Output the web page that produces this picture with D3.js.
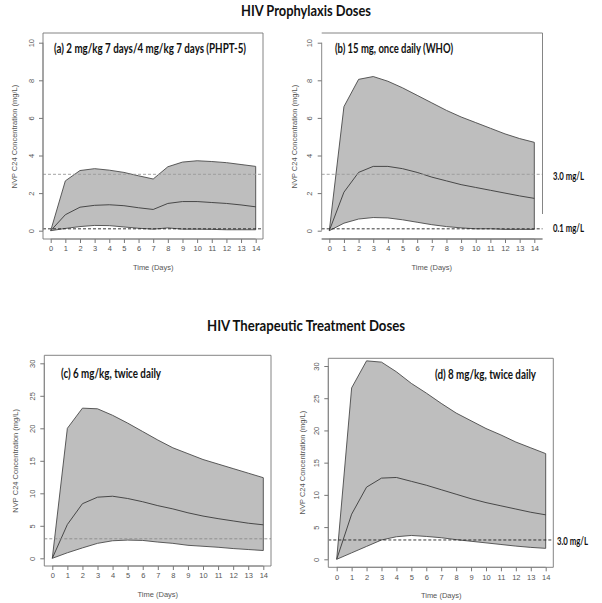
<!DOCTYPE html>
<html><head><meta charset="utf-8">
<script src="https://cdn.jsdelivr.net/npm/d3@7"></script>
<style>body{margin:0;background:#fff} svg{display:block}</style>
</head><body><svg id="chart" width="602" height="603"></svg>
<script>
// ---------------- data ----------------
const days = [0,1,2,3,4,5,6,7,8,9,10,11,12,13,14];

const aUpper  = [0,2.65,3.2,3.3,3.22,3.1,2.92,2.75,3.4,3.65,3.72,3.68,3.62,3.52,3.42];
const aMedian = [0,0.85,1.25,1.35,1.38,1.33,1.22,1.13,1.45,1.55,1.55,1.5,1.45,1.37,1.27];
const aLower  = [0,0.12,0.22,0.28,0.27,0.2,0.13,0.08,0.15,0.08,0.08,0.07,0.05,0.05,0.05];

const bUpper  = [0,6.6,8.05,8.2,7.95,7.6,7.2,6.8,6.4,6.05,5.75,5.45,5.15,4.9,4.7];
const bMedian = [0,2.05,3.1,3.42,3.42,3.3,3.1,2.85,2.65,2.45,2.3,2.15,2.0,1.85,1.72];
const bLower  = [0,0.4,0.62,0.7,0.68,0.58,0.45,0.32,0.22,0.15,0.1,0.1,0.07,0.07,0.07];

const cUpper  = [0,20,23.1,23,22,20.8,19.5,18.2,17,16.1,15.2,14.5,13.8,13.1,12.4];
const cMedian = [0,5.2,8.4,9.4,9.55,9.2,8.7,8.1,7.6,7.0,6.5,6.1,5.75,5.4,5.15];
const cLower  = [0,0.85,1.6,2.3,2.7,2.8,2.75,2.5,2.3,2.0,1.85,1.7,1.5,1.35,1.2];

const dUpper  = [0,26.6,30.8,30.6,29.1,27.3,25.8,24.2,22.7,21.5,20.3,19.3,18.2,17.3,16.4];
const dMedian = [0,7.0,11.2,12.6,12.7,12.1,11.5,10.8,10.1,9.4,8.8,8.3,7.8,7.3,6.9];
const dLower  = [0,1.0,2.0,3.0,3.5,3.7,3.55,3.35,3.05,2.8,2.55,2.3,2.05,1.85,1.7];

const yTicksProphylaxis = [0,2,4,6,8,10];
const yTicksTreatment   = [0,5,10,15,20,25,30];
const xTicks = days;

const sectionTitles = ["HIV Prophylaxis Doses", "HIV Therapeutic Treatment Doses"];
const panelTitles = [
  "(a) 2 mg/kg 7 days/4 mg/kg 7 days (PHPT-5)",
  "(b) 15 mg, once daily (WHO)",
  "(c) 6 mg/kg, twice daily",
  "(d) 8 mg/kg, twice daily"
];
const thresholdValues = [3.0, 0.1];
const thresholdLabels = ["3.0 mg/L", "0.1 mg/L"];
const xLabel = "Time (Days)";
const yLabel = "NVP C24 Concentration (mg/L)";

// ---------------- layout ----------------
const panels = [
  {upper:aUpper, median:aMedian, lower:aLower, ticks:yTicksProphylaxis, ymax:10,
   box:[43,263,33,239], xr:[50.7,255.7], yr:[230.7,42.7], title:panelTitles[0],
   tx:54, ty:48, tw:192, yl:14,
   lines:[{v:thresholdValues[0], c:"#9a9a9a"},{v:thresholdValues[1], c:"#222"}], labels:[], rightGap:null},
  {upper:bUpper, median:bMedian, lower:bLower, ticks:yTicksProphylaxis, ymax:10,
   box:[321.7,542.5,33,239], xr:[329.3,534.3], yr:[230.7,42.7], title:panelTitles[1],
   tx:335, ty:48, tw:118, yl:294,
   lines:[{v:thresholdValues[0], c:"#9a9a9a"},{v:thresholdValues[1], c:"#222"}],
   labels:[{t:thresholdLabels[0], x:553, y:175},{t:thresholdLabels[1], x:553, y:227}], rightGap:214},
  {upper:cUpper, median:cMedian, lower:cLower, ticks:yTicksTreatment, ymax:30,
   box:[44.3,271,355.3,566], xr:[52.3,263.3], yr:[558.3,363.3], title:panelTitles[2],
   tx:61, ty:373, tw:100, yl:15,
   lines:[{v:thresholdValues[0], c:"#8a8a8a"}], labels:[], rightGap:null},
  {upper:dUpper, median:dMedian, lower:dLower, ticks:yTicksTreatment, ymax:30,
   box:[328.3,553.3,358.3,567.3], xr:[336.7,545.7], yr:[559.3,366], title:panelTitles[3],
   tx:435, ty:374, tw:101, yl:302,
   lines:[{v:thresholdValues[0], c:"#222"}],
   labels:[{t:thresholdLabels[0], x:557, y:540}], rightGap:null}
];

const svg = d3.select("#chart");
const boldFont = "Lato, 'Open Sans', sans-serif";
const axisFont = "'Liberation Sans', Arial, sans-serif";

function fitText(sel, w) {
  sel.attr("textLength", w).attr("lengthAdjust", "spacingAndGlyphs");
}

// section titles
[[sectionTitles[0], 306, 10, 130], [sectionTitles[1], 306, 325, 198]].forEach(([t, x, y, w]) => {
  const s = svg.append("text").attr("x", x).attr("y", y).attr("text-anchor", "middle")
    .attr("dominant-baseline", "central").attr("font-family", boldFont).attr("font-weight", "bold")
    .attr("font-size", 14.5).attr("fill", "#111").text(t);
  fitText(s, w);
});

panels.forEach(p => {
  const g = svg.append("g");
  const x = d3.scaleLinear().domain([0, 14]).range(p.xr);
  const y = d3.scaleLinear().domain([0, p.ymax]).range(p.yr);
  const [bl, br, bt, bb] = p.box;

  // band
  const rows = days.map((d, i) => ({d, lo: p.lower[i], hi: p.upper[i], m: p.median[i]}));
  g.append("path").datum(rows)
    .attr("d", d3.area().x(r => x(r.d)).y0(r => y(r.lo)).y1(r => y(r.hi)))
    .attr("fill", "#bebebe").attr("stroke", "#4a4a4a").attr("stroke-width", 0.9);
  g.append("path").datum(rows)
    .attr("d", d3.line().x(r => x(r.d)).y(r => y(r.m)))
    .attr("fill", "none").attr("stroke", "#3a3a3a").attr("stroke-width", 0.9);

  // threshold lines
  p.lines.forEach(l => {
    g.append("line").attr("x1", bl).attr("x2", br).attr("y1", y(l.v)).attr("y2", y(l.v))
      .attr("stroke", l.c).attr("stroke-width", 0.9).attr("stroke-dasharray", "3,2");
  });

  // box
  const boxPath = d3.path();
  boxPath.moveTo(bl, bt); boxPath.lineTo(br, bt);
  boxPath.lineTo(br, p.rightGap == null ? bb : p.rightGap);
  if (p.rightGap != null) boxPath.moveTo(br, bb);
  boxPath.lineTo(bl, bb); boxPath.closePath();
  g.append("path").attr("d", boxPath.toString()).attr("fill", "none")
    .attr("stroke", "#777").attr("stroke-width", 0.9);

  // x axis
  const xa = g.append("g").attr("transform", `translate(0,${bb})`)
    .call(d3.axisBottom(x).tickValues(xTicks).tickSize(4).tickPadding(3).tickFormat(d3.format("d")));
  xa.select(".domain").attr("stroke", "#888").attr("d", `M${x(0)},0H${x(14)}`);
  xa.selectAll(".tick line").attr("stroke", "#777");
  xa.selectAll("text").attr("font-family", axisFont).attr("font-size", 7.5).attr("fill", "#555");

  // y axis
  const ya = g.append("g").attr("transform", `translate(${bl},0)`)
    .call(d3.axisLeft(y).tickValues(p.ticks).tickSize(4).tickFormat(d3.format("d")));
  ya.select(".domain").attr("stroke", "#888").attr("d", `M0,${y(0)}V${y(p.ymax)}`);
  ya.selectAll(".tick line").attr("stroke", "#777");
  ya.selectAll(".tick text").attr("font-family", axisFont).attr("font-size", 7.5).attr("fill", "#555")
    .attr("dy", null).attr("text-anchor", "middle").attr("dominant-baseline", "central")
    .attr("transform", "rotate(-90)").attr("x", 0).attr("y", -12);

  // axis titles
  g.append("text").attr("x", (p.xr[0] + p.xr[1]) / 2).attr("y", bb + 28)
    .attr("text-anchor", "middle").attr("dominant-baseline", "central")
    .attr("font-family", axisFont).attr("font-size", 7.5).attr("fill", "#555").text(xLabel);
  g.append("text").attr("transform", `translate(${p.yl},${(p.yr[0] + p.yr[1]) / 2}) rotate(-90)`)
    .attr("text-anchor", "middle").attr("dominant-baseline", "central")
    .attr("font-family", axisFont).attr("font-size", 7.5).attr("fill", "#555").text(yLabel);

  // panel title
  const pt = g.append("text").attr("x", p.tx).attr("y", p.ty).attr("dominant-baseline", "central")
    .attr("font-family", boldFont).attr("font-weight", "bold").attr("font-size", 12.5)
    .attr("fill", "#111").text(p.title);
  fitText(pt, p.tw);

  // threshold labels
  p.labels.forEach(l => {
    const s = svg.append("text").attr("x", l.x).attr("y", l.y).attr("dominant-baseline", "central")
      .attr("font-family", boldFont).attr("font-weight", "bold").attr("font-size", 11)
      .attr("fill", "#111").text(l.t);
    fitText(s, 31);
  });
});
</script></body></html>
